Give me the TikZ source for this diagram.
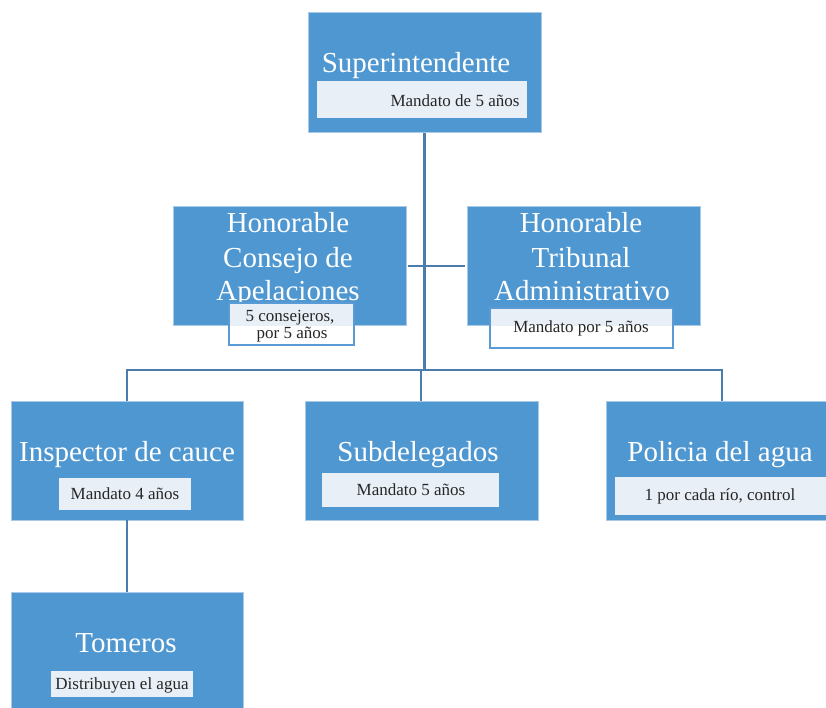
\documentclass[tikz,border=0pt]{standalone}
\usepackage{fontspec}
\setmainfont{Liberation Serif}
\definecolor{boxblue}{HTML}{4F97D1}
\definecolor{boxedge}{HTML}{A9C9E8}
\definecolor{linkblue}{HTML}{4A7DAE}
\definecolor{subfill}{HTML}{E9EFF7}
\definecolor{subedge}{HTML}{5B9BD5}
\tikzset{
  orgbox/.style={fill=boxblue, draw=boxedge, line width=0.8pt, rectangle},
  title/.style={text=white, font=\fontsize{29}{34}\selectfont, anchor=base, inner sep=0pt, align=center},
  subbox/.style={fill=subfill, draw=none, rectangle},
  subboxb/.style={fill=subfill, draw=subedge, line width=1.8pt, rectangle},
  subtext/.style={text=black!85, font=\fontsize{17}{17}\selectfont, anchor=base, inner sep=0pt, align=center},
  link/.style={draw=linkblue, line width=2.8pt}
}
\begin{document}
\begin{tikzpicture}[x=1pt,y=-1pt]
\useasboundingbox (0,0) rectangle (826,707);
% boxes
\path[orgbox] (308,12) rectangle (541,132);
\path[orgbox] (173,206) rectangle (406,325);
\path[orgbox] (467,206) rectangle (700,325);
\path[orgbox] (11,401) rectangle (243,520);
\path[orgbox] (305,401) rectangle (538,520);
\path[orgbox] (606,401) rectangle (830,520);
\path[orgbox] (11,592) rectangle (243,710);

% connectors
\coordinate (hubTop) at (424.5,133);
\coordinate (hubBot) at (424.5,370);
\coordinate (conR) at (408,266);
\coordinate (triL) at (465,266);
\coordinate (insTop) at (127,401);
\coordinate (subTop) at (421,401);
\coordinate (polTop) at (722,401);
\coordinate (insBot) at (127,520);
\coordinate (tomTop) at (127,592);
\draw[link] (hubTop) -- (hubBot);
\draw[link] (conR) -- (triL);
\draw[link] (insTop) |- (hubBot) -| (polTop);
\draw[link] (subTop |- hubBot) -- (subTop);
\draw[link] (insBot) -- (tomTop);

% Superintendente
\node[title] (tsup) at (416,72) {Superintendente};
\path[subbox] (317,81) rectangle (527,118);
\node[subtext] (ssup) at (455,106) {Mandato de 5 años};

% Consejo
\node[title] (tcon1) at (288,232) {Honorable};
\node[title] (tcon2) at (288,267) {Consejo de};
\node[title] (tcon3) at (288,300) {Apelaciones};
\path[subboxb] (229,303) rectangle (354,345);
\fill[white] (230,325.5) rectangle (353,344);
\node[subtext] (scon1) at (290,321) {5 consejeros,};
\node[subtext] (scon2) at (292,338) {por 5 años};

% Tribunal
\node[title] (ttri1) at (581,232) {Honorable};
\node[title] (ttri2) at (581,267) {Tribunal};
\node[title] (ttri3) at (582,300) {Administrativo};
\path[subboxb] (490,308) rectangle (673,348);
\fill[white] (491,325.5) rectangle (672,347);
\node[subtext] (stri) at (581,332) {Mandato por 5 años};

% Inspector
\node[title] (tins) at (127,461) {Inspector de cauce};
\path[subbox] (59,478) rectangle (191,510);
\node[subtext] (sins) at (125,499) {Mandato 4 años};

% Subdelegados
\node[title] (tsub) at (418,461) {Subdelegados};
\path[subbox] (322,473) rectangle (499,507);
\node[subtext] (ssub) at (411,495) {Mandato 5 años};

% Policia
\node[title] (tpol) at (720,461) {Policia del agua};
\path[subbox] (615,477) rectangle (826,515);
\node[subtext] (spol) at (720,500) {1 por cada río, control};

% Tomeros
\node[title] (ttom) at (126,652) {Tomeros};
\path[subbox] (51,671) rectangle (193,697);
\node[subtext] (stom) at (122,689) {Distribuyen el agua};
\end{tikzpicture}
\end{document}
